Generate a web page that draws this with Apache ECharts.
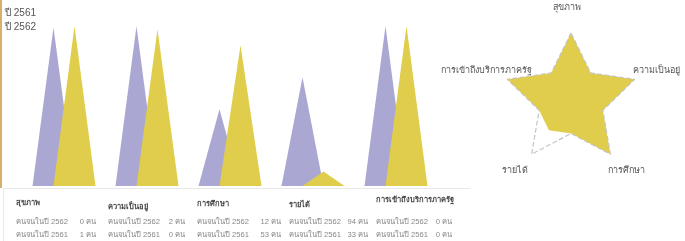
<!DOCTYPE html>
<html lang="th">
<head>
<meta charset="UTF-8">
<title>คนจน</title>
<script src="https://cdn.jsdelivr.net/npm/echarts@6/dist/echarts.min.js"></script>
<style>
  html, body { margin: 0; padding: 0; background: #fff; }
  #chart { width: 685px; height: 241px; }
</style>
</head>
<body>
<div id="chart"></div>
<script>
// หมวด
var categories = ['สุขภาพ', 'ความเป็นอยู่', 'การศึกษา', 'รายได้', 'การเข้าถึงบริการภาครัฐ'];
var yearNames = ['ปี 2561', 'ปี 2562'];
// ความสูงแท่ง (อ่านจากภาพ, สเกล 0-100)
var bars2561 = [99, 100, 48, 68, 100];
var bars2562 = [100, 98, 88, 9, 100];
// ตาราง
var poor2562 = [0, 2, 12, 94, 0];
var poor2561 = [1, 0, 53, 33, 0];
// เรดาร์ (ทวนเข็ม เริ่มด้านบน: สุขภาพ, -, การเข้าถึงฯ, -, รายได้, -, การศึกษา, -, ความเป็นอยู่, -)
var radarIndicators = ['สุขภาพ', '', 'การเข้าถึงบริการภาครัฐ', '', 'รายได้', '', 'การศึกษา', '', 'ความเป็นอยู่', ''];
var radarFull = [1, 0.5, 1, 0.5, 1, 0.5, 1, 0.5, 1, 0.5];
var radarFill = [1, 0.5, 1, 0.5, 0.56, 0.5, 1, 0.5, 1, 0.5];

var PURPLE = '#aaa8d3';
var YELLOW = '#e0cd4b';
var FONT = 'sans-serif';

function makeChart(divID) {
    var myChart = echarts.init(document.getElementById(divID));

    // ตารางด้านล่าง
    var colX = [16, 108, 197, 289, 376];
    var valX = [96, 185, 281, 368, 452];
    var headY = [203, 207, 204, 205, 200];
    var tableEls = [];
    categories.forEach(function (name, i) {
        tableEls.push({
            type: 'text', x: colX[i], y: headY[i],
            style: { text: name, fill: '#444', font: 'bold 7.5px ' + FONT, verticalAlign: 'middle' }
        });
        [['คนจนในปี 2562', poor2562[i]], ['คนจนในปี 2561', poor2561[i]]].forEach(function (row, r) {
            var y = 222 + r * 13;
            tableEls.push({
                type: 'text', x: colX[i], y: y,
                style: { text: row[0], fill: '#888', font: '7.6px ' + FONT, verticalAlign: 'middle' }
            });
            tableEls.push({
                type: 'text', x: valX[i], y: y,
                style: { text: row[1] + ' คน', fill: '#888', font: '7.6px ' + FONT, align: 'right', verticalAlign: 'middle' }
            });
        });
    });

    // ชื่อแกนเรดาร์
    var radarLabels = [
        { text: 'สุขภาพ', x: 567, y: 8, align: 'center' },
        { text: 'ความเป็นอยู่', x: 633, y: 71, align: 'left' },
        { text: 'การศึกษา', x: 608, y: 171, align: 'left' },
        { text: 'รายได้', x: 528, y: 171, align: 'right' },
        { text: 'การเข้าถึงบริการภาครัฐ', x: 532, y: 71, align: 'right' }
    ];
    radarLabels.forEach(function (l) {
        tableEls.push({
            type: 'text', x: l.x, y: l.y,
            style: { text: l.text, fill: '#555', font: '9px ' + FONT, align: l.align, verticalAlign: 'middle' }
        });
    });

    var option = {
        backgroundColor: '#fff',
        animation: false,
        legend: {
            orient: 'vertical',
            left: 0,
            top: 8,
            padding: 0,
            itemWidth: 0,
            itemHeight: 0,
            itemGap: 4,
            data: yearNames,
            textStyle: { color: '#555', fontSize: 10, fontFamily: FONT }
        },
        grid: { left: 22.5, right: 247.5, top: 26, bottom: 55 },
        xAxis: {
            type: 'category',
            data: categories,
            axisLine: { show: false },
            axisTick: { show: false },
            axisLabel: { show: false }
        },
        yAxis: {
            type: 'value',
            min: 0,
            max: 100,
            show: false
        },
        radar: {
            center: [571, 100],
            radius: 67,
            startAngle: 90,
            indicator: radarIndicators.map(function (n) { return { name: n, max: 1 }; }),
            axisName: { show: false },
            axisLine: { show: false },
            splitLine: { show: false },
            splitArea: { show: false }
        },
        graphic: [
            { type: 'line', shape: { x1: 1, y1: 0, x2: 1, y2: 188 }, style: { stroke: '#d8b06a', lineWidth: 2 } },
            { type: 'line', shape: { x1: 3, y1: 188.5, x2: 470, y2: 188.5 }, style: { stroke: '#e8e8e8', lineWidth: 1 } },
            { type: 'line', shape: { x1: 3.5, y1: 188, x2: 3.5, y2: 241 }, style: { stroke: '#e8e8e8', lineWidth: 1 } }
        ].concat(tableEls),
        series: [
            {
                name: yearNames[0],
                type: 'pictorialBar',
                symbol: 'triangle',
                barWidth: 42,
                barGap: '-100%',
                symbolSize: [42, '100%'],
                symbolOffset: [-10.5, 0],
                itemStyle: { color: PURPLE },
                data: bars2561
            },
            {
                name: yearNames[1],
                type: 'pictorialBar',
                symbol: 'triangle',
                barWidth: 42,
                barGap: '-100%',
                symbolSize: [42, '100%'],
                symbolOffset: [10.5, 0],
                itemStyle: { color: YELLOW },
                data: bars2562
            },
            {
                type: 'radar',
                symbol: 'none',
                data: [
                    {
                        value: radarFill,
                        lineStyle: { width: 0, opacity: 0 },
                        areaStyle: { color: YELLOW, opacity: 1 }
                    },
                    {
                        value: radarFull,
                        lineStyle: { color: '#c4c4c4', type: 'dashed', width: 1.2 }
                    }
                ]
            }
        ]
    };
    myChart.setOption(option);
}
makeChart('chart');
</script>
</body>
</html>
